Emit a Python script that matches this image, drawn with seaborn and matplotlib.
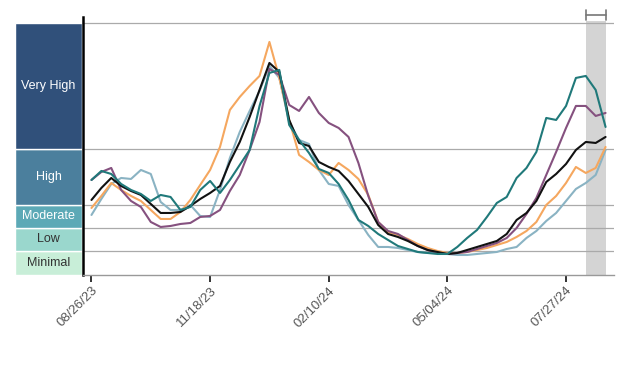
import pandas as pd
import seaborn as sns
import matplotlib.pyplot as plt
import matplotlib.dates as mdates

# weekly values, 08/26/23 .. 08/24/24 (53 weeks)
weeks = pd.date_range("2023-08-26", periods=53, freq="7D")

national = [7.5, 8.7, 9.7, 8.9, 8.4, 8.0, 7.1, 6.2, 6.2, 6.3, 6.9, 7.6, 8.2, 8.9, 11.3,
            13.3, 15.8, 18.5, 21.2, 20.3, 15.5, 13.2, 12.9, 11.3, 10.8, 10.4, 9.4, 8.1,
            6.8, 5.0, 4.1, 3.8, 3.4, 2.9, 2.5, 2.3, 2.1, 2.2, 2.5, 2.8, 3.1, 3.4, 4.1,
            5.5, 6.2, 7.4, 9.3, 10.1, 11.1, 12.5, 13.3, 13.2, 13.8]
northeast = [6.7, 7.9, 9.2, 8.5, 7.9, 7.4, 6.5, 5.6, 5.6, 6.3, 7.5, 9.0, 10.5, 12.8, 16.5,
             17.8, 18.9, 19.9, 23.3, 19.7, 15.5, 12.0, 11.3, 10.5, 10.0, 11.2, 10.5, 9.6,
             8.0, 5.3, 4.3, 4.0, 3.6, 3.1, 2.7, 2.4, 2.2, 2.2, 2.3, 2.5, 2.7, 3.0, 3.3,
             3.8, 4.4, 5.3, 7.0, 7.9, 9.2, 10.8, 10.2, 10.7, 12.8]
midwest = [9.5, 10.3, 10.7, 8.5, 7.4, 6.8, 5.3, 4.8, 4.9, 5.1, 5.2, 5.8, 5.9, 6.5, 8.4,
           10.0, 12.5, 15.3, 20.6, 20.0, 17.0, 16.4, 17.8, 16.2, 15.2, 14.7, 13.8, 11.2,
           7.9, 5.3, 4.4, 4.1, 3.5, 2.9, 2.5, 2.2, 2.1, 2.2, 2.3, 2.6, 2.9, 3.2, 3.7,
           4.7, 6.1, 7.7, 10.0, 12.3, 14.7, 16.9, 16.9, 15.9, 16.2]
west = [9.5, 10.4, 10.1, 9.1, 8.5, 8.1, 7.4, 8.0, 7.8, 6.5, 6.8, 8.5, 9.4, 8.2, 9.5,
        11.0, 12.5, 16.9, 20.2, 20.5, 15.0, 13.5, 12.2, 10.6, 10.2, 9.1, 7.5, 5.5,
        4.9, 4.1, 3.5, 2.9, 2.6, 2.3, 2.2, 2.1, 2.1, 2.8, 3.7, 4.5, 5.8, 7.2, 7.8,
        9.7, 10.7, 12.3, 15.7, 15.5, 16.9, 19.7, 19.9, 18.5, 14.8]
south = [6.0, 7.6, 9.1, 9.7, 9.6, 10.5, 10.1, 7.3, 6.5, 6.5, 7.0, 5.9, 5.8, 8.5, 11.7,
         14.3, 16.4, 18.4, 20.9, 19.7, 15.3, 13.5, 13.1, 10.5, 9.1, 8.9, 7.0, 5.5,
         4.0, 2.8, 2.8, 2.7, 2.5, 2.3, 2.2, 2.2, 2.1, 2.0, 2.0, 2.1, 2.2, 2.3, 2.6,
         2.8, 3.7, 4.4, 5.4, 6.2, 7.4, 8.6, 9.2, 10.0, 12.5]

series_colors = {"South": "#8ab3c3", "Northeast": "#f5a75f", "Midwest": "#85517f",
                 "National": "#111111", "West": "#20797a"}

level_names = ["Minimal", "Low", "Moderate", "High", "Very High"]
level_edges = [0, 2.4, 4.7, 7.0, 12.6, 25.2]
level_colors = ["#c8eed8", "#9ad7cd", "#5ca9b6", "#4b7f9d", "#30507a"]
level_text = ["#333333", "#333333", "white", "white", "white"]

tick_dates = ["2023-08-26", "2023-11-18", "2024-02-10", "2024-05-04", "2024-07-27"]
provisional = ("2024-08-10", "2024-08-24")

df = pd.DataFrame({"date": list(weeks) * 5,
                   "region": (["South"] * 53 + ["Northeast"] * 53 + ["Midwest"] * 53
                              + ["National"] * 53 + ["West"] * 53),
                   "value": south + northeast + midwest + national + west})

sns.set_style("white")
plt.rcParams["font.family"] = ["Liberation Sans", "DejaVu Sans"]

fig = plt.figure(figsize=(6.35, 3.84), dpi=100)
bottom, height = 0.2839, 0.672
ax_lev = fig.add_axes([0.0236, bottom, 0.1055, height])
ax = fig.add_axes([0.1307, bottom, 0.8363, height])
ymax = 25.8

# level bands on the left
for lo, hi, name, c, tc in zip(level_edges[:-1], level_edges[1:], level_names,
                               level_colors, level_text):
    ax_lev.bar(0.5, hi - lo, bottom=lo, width=1, color=c, edgecolor="white", linewidth=1)
    ax_lev.text(0.5, (lo + hi) / 2, name, ha="center", va="center", color=tc, fontsize=9)
ax_lev.set_xlim(0, 1)
ax_lev.set_ylim(0, ymax)
ax_lev.axis("off")

# provisional shading
p0, p1 = pd.Timestamp(provisional[0]), pd.Timestamp(provisional[1])
ax.axvspan(p0, p1, ymin=0, ymax=25.4 / ymax, color="#d4d4d4", lw=0, zorder=0)
ax.plot([p0, p1], [25.95, 25.95], color="#777777", lw=1.2, clip_on=False)
for p in (p0, p1):
    ax.plot([p, p], [25.45, 26.5], color="#777777", lw=1.2, clip_on=False)

for e in level_edges[1:]:
    ax.axhline(e, color="#aaaaaa", lw=0.9, zorder=1)

sns.lineplot(data=df, x="date", y="value", hue="region", palette=series_colors,
             hue_order=list(series_colors), linewidth=1.5, legend=False, ax=ax, zorder=3)

ax.set_ylim(0, ymax)
ax.set_xlim(pd.Timestamp("2023-08-20"), pd.Timestamp("2024-08-30"))
ax.set_yticks([])
ax.set_xticks(pd.to_datetime(tick_dates))
ax.xaxis.set_major_formatter(mdates.DateFormatter("%m/%d/%y"))
ax.tick_params(axis="x", bottom=True, direction="out", length=5, width=1.4,
               color="#333333", labelsize=9.5, labelcolor="#555555", pad=2)
for lab in ax.get_xticklabels():
    lab.set_rotation(45)
    lab.set_ha("right")
    lab.set_va("top")
    lab.set_rotation_mode("anchor")
ax.set_xlabel("")
ax.set_ylabel("")
for s in ("top", "right"):
    ax.spines[s].set_visible(False)
ax.spines["left"].set_color("black")
ax.spines["left"].set_linewidth(1.8)
ax.spines["bottom"].set_color("#999999")
ax.spines["bottom"].set_linewidth(1)

fig.savefig("out.png", dpi=100)
